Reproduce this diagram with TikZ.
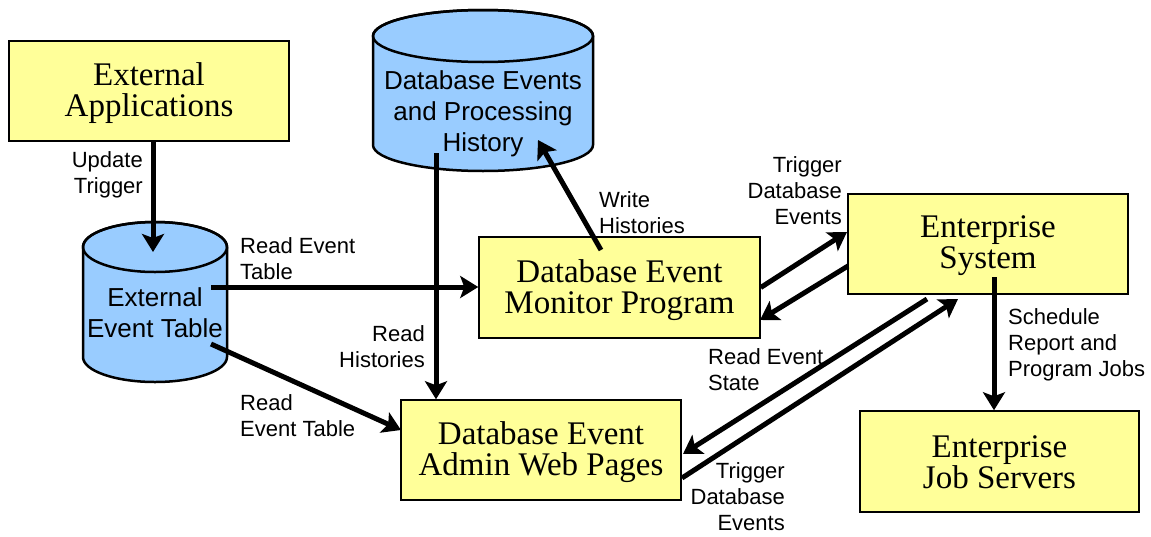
\documentclass[tikz,border=0pt]{standalone}
\usepackage{fontspec}
\setmainfont{Liberation Serif}
\setsansfont{Liberation Sans}
\usetikzlibrary{arrows.meta,calc}
\definecolor{boxyellow}{HTML}{FFFF99}
\definecolor{cylblue}{HTML}{99CCFF}
\tikzset{
  box/.style={draw=black, line width=1.5pt, fill=boxyellow, inner sep=0pt},
  boxtext/.style={align=center, inner sep=0pt, font=\rmfamily\fontsize{33}{31}\selectfont},
  cyltext/.style={align=center, inner sep=0pt, font=\sffamily\fontsize{26}{31}\selectfont},
  lab/.style={inner sep=0pt, font=\sffamily\fontsize{22}{26}\selectfont},
  cylline/.style={draw=black, line width=2.5pt, fill=cylblue},
  arr/.style={line width=5pt, -{Stealth[length=18pt,width=22pt,inset=4pt]}},
}
\newcommand{\mycyl}[5]{% left x, right x, top center y, bottom center y, ry
  \path[cylline] (#1,#3) -- (#1,#4) arc[start angle=180,end angle=360,x radius={(#2-#1)/2*1pt},y radius=#5 pt]
    -- (#2,#3) arc[start angle=0,end angle=180,x radius={(#2-#1)/2*1pt},y radius=#5 pt] -- cycle;
  \draw[line width=2.5pt] ({(#1+#2)/2},#3) ellipse[x radius={(#2-#1)/2*1pt},y radius=#5 pt];
}
\begin{document}
\begin{tikzpicture}[x=1pt,y=-1pt]
\useasboundingbox (0,0) rectangle (1151,536);

% cylinders
\mycyl{373}{593}{36}{145}{26}
\mycyl{83}{227}{247}{357}{25}
\node[cyltext] (dbhist) at (483,113.5) {Database Events\\and Processing\\History};
\node[cyltext] (eet) at (155,312.5) {External\\Event Table};

% boxes
\node[box, minimum width=280pt, minimum height=100pt] (extapp) at (149,91) {};
\node[box, minimum width=281pt, minimum height=101pt] (monitor) at (619.5,287.5) {};
\node[box, minimum width=280pt, minimum height=100pt] (entsys) at (988,244) {};
\node[box, minimum width=279pt, minimum height=101pt] (jobs) at (999.5,461.5) {};
\node[box, minimum width=280pt, minimum height=100pt] (admin) at (541,450) {};
\node[boxtext] (extapp-t) at (149,93.5) {External\\Applications};
\node[boxtext] (monitor-t) at (619.5,290) {Database Event\\Monitor Program};
\node[boxtext] (entsys-t) at (988,246) {Enterprise\\System};
\node[boxtext] (jobs-t) at (999.5,462) {Enterprise\\Job Servers};
\node[boxtext] (admin-t) at (541,452.5) {Database Event\\Admin Web Pages};

% endpoints
\coordinate (c1) at (153,252);
\coordinate (c2s) at (211,287);
\coordinate (c3s) at (211,344);
\coordinate (c3e) at (401,430);
\coordinate (c4s) at (436,153);
\coordinate (c5s) at (601,250);
\coordinate (c5e) at (538,140);
\coordinate (c6e) at (847,232);
\coordinate (c7s) at (848,266);
\coordinate (c7e) at (760,320);
\coordinate (c8s) at (927,299);
\coordinate (c8e) at (683,454);
\coordinate (c9s) at (682,478);
\coordinate (c9e) at (958,299);
\coordinate (c10s) at (994,277);

% connectors
\draw[arr] (extapp.south -| c1) -- (c1);
\draw[arr] (c2s) -- (monitor.west |- c2s);
\draw[arr] (c3s) -- (c3e);
\draw[arr] (c4s) -- (admin.north -| c4s);
\draw[arr] (c5s) -- (c5e);
\draw[arr] (monitor.east) -- (c6e);
\draw[arr] (c7s) -- (c7e);
\draw[arr] (c8s) -- (c8e);
\draw[arr] (c9s) -- (c9e);
\draw[arr] (c10s) -- (jobs.north -| c10s);

% labels
\node[lab, anchor=east, align=right] (l1) at (143,175) {Update\\Trigger};
\node[lab, anchor=west, align=left] (l2) at (240,259) {Read Event\\Table};
\node[lab, anchor=west, align=left] (l3) at (240,416) {Read\\Event Table};
\node[lab, anchor=east, align=right] (l4) at (425,346.5) {Read\\Histories};
\node[lab, anchor=west, align=left] (l5) at (599,213) {Write\\Histories};
\node[lab, anchor=east, align=right] (l6) at (842,191) {Trigger\\Database\\Events};
\node[lab, anchor=west, align=left] (l7) at (708,370) {Read Event\\State};
\node[lab, anchor=east, align=right] (l8) at (785,497) {Trigger\\Database\\Events};
\node[lab, anchor=west, align=left] (l9) at (1008,345) {Schedule\\Report and\\Program Jobs};
\end{tikzpicture}
\end{document}
